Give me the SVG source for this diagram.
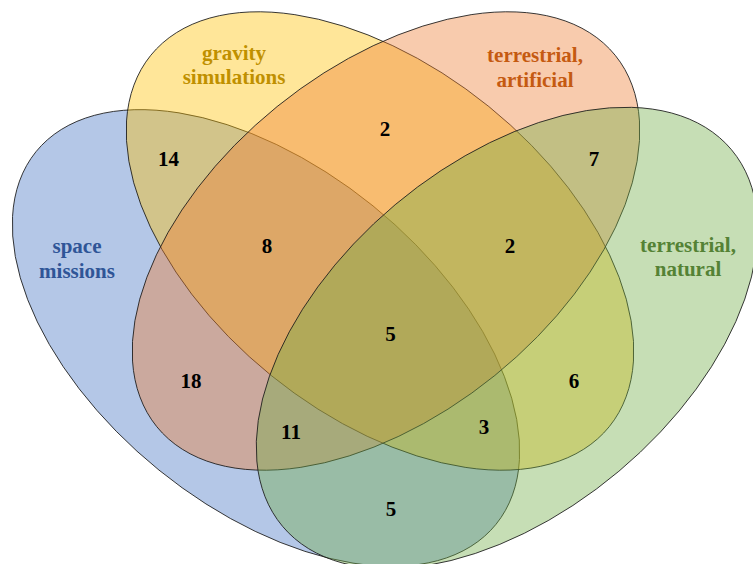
<svg xmlns="http://www.w3.org/2000/svg" width="753" height="564" viewBox="0 0 753 564">
<style>
.set{stroke:#1a1a1a;stroke-width:0.8;fill-opacity:0.4}
.lbl{font-family:"Liberation Serif","Times New Roman",serif;font-weight:bold;font-size:21px;text-anchor:middle}
.num{font-family:"Liberation Serif","Times New Roman",serif;font-weight:bold;font-size:21px;text-anchor:middle;fill:#000}
</style>
<rect width="753" height="564" fill="#ffffff"/>
<g id="space-missions">
<ellipse class="set" cx="0" cy="0" rx="296" ry="170" transform="translate(266 338) rotate(39)" fill="#4472C4"/>
<text class="lbl" fill="#2F5597"><tspan x="77" y="253">space</tspan><tspan x="77" y="278">missions</tspan></text>
</g>
<g id="gravity-simulations">
<ellipse class="set" cx="0" cy="0" rx="295" ry="173" transform="translate(380 241) rotate(39)" fill="#FFC000"/>
<text class="lbl" fill="#BF9000"><tspan x="234" y="60">gravity</tspan><tspan x="234" y="84">simulations</tspan></text>
</g>
<g id="terrestrial-artificial">
<ellipse class="set" cx="0" cy="0" rx="295" ry="173" transform="translate(386 241) rotate(-39)" fill="#ED7D31"/>
<text class="lbl" fill="#C55A11"><tspan x="535" y="62">terrestrial,</tspan><tspan x="535" y="87">artificial</tspan></text>
</g>
<g id="terrestrial-natural">
<ellipse class="set" cx="0" cy="0" rx="293" ry="174" transform="translate(507 338) rotate(-40)" fill="#70AD47"/>
<text class="lbl" fill="#548235"><tspan x="688" y="252">terrestrial,</tspan><tspan x="688" y="276">natural</tspan></text>
</g>
<g id="counts">
<text class="num" x="168.5" y="166">14</text>
<text class="num" x="385" y="136">2</text>
<text class="num" x="594" y="166">7</text>
<text class="num" x="267" y="253">8</text>
<text class="num" x="510" y="253">2</text>
<text class="num" x="390.5" y="341">5</text>
<text class="num" x="191" y="388">18</text>
<text class="num" x="574" y="388">6</text>
<text class="num" x="291" y="439">11</text>
<text class="num" x="484" y="434">3</text>
<text class="num" x="391" y="516">5</text>
</g>
</svg>
